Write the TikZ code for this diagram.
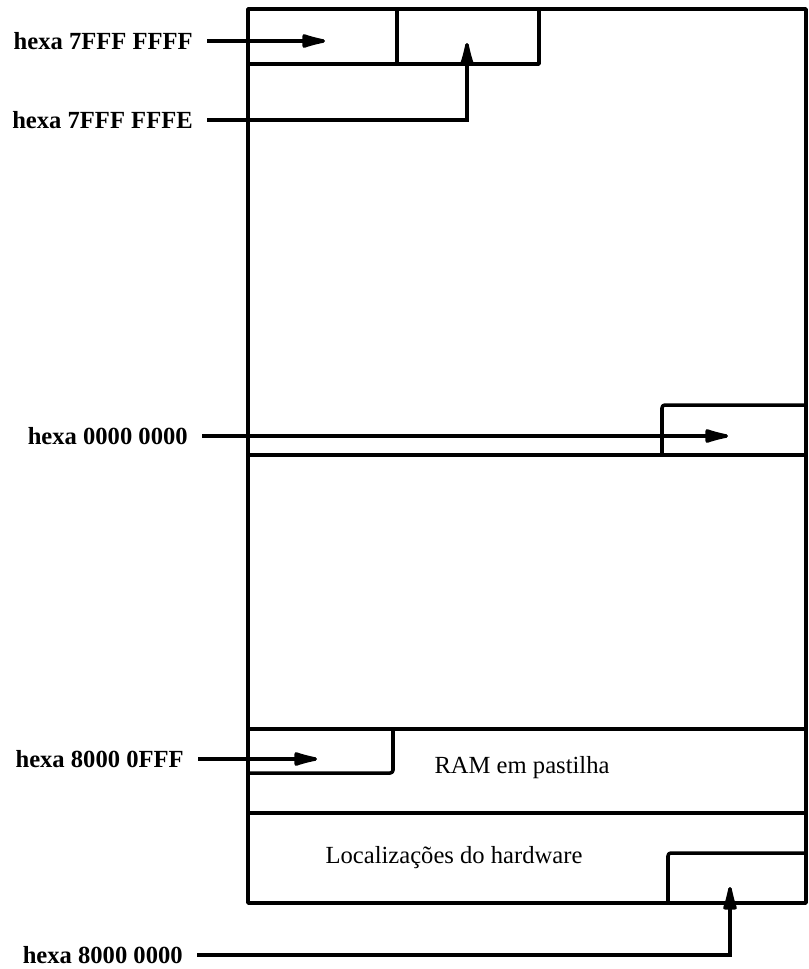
\documentclass[tikz,border=0pt]{standalone}
\usepackage{fontspec}
\setmainfont{Liberation Serif}
\usetikzlibrary{arrows.meta}

\begin{document}
\begin{tikzpicture}[
    x=0.025cm, y=-0.025cm,
    frame/.style={line width=2.5pt, line join=round},
    ptr/.style={line width=2.5pt, -{Latex[length=8mm, width=3.8mm, round]}},
    addr/.style={anchor=east, inner xsep=0.35cm, inner ysep=0pt, font=\bfseries\fontsize{17.5}{19}\selectfont},
    area/.style={font=\fontsize{17.5}{19}\selectfont}
]
\useasboundingbox (0,0) rectangle (809,969);

% Memory outline
\draw[frame] (248,9) rectangle (806,903);

% Top two words
\draw[frame] (248,64) -- (539,64) -- (539,9);
\draw[frame] (397,9) -- (397,64);

% Word at address zero
\draw[frame, rounded corners=2pt] (662,455) |- (806,405);
\draw[frame] (248,455) -- (806,455);

% RAM em pastilha
\draw[frame] (248,729) -- (806,729);
\draw[frame, rounded corners=2pt] (248,773) -| (393,729);
\draw[frame] (248,813) -- (806,813);
\node[area] (ram) at (522,768) {RAM em pastilha};

% Hardware area
\draw[frame, rounded corners=2pt] (668,903) |- (806,853);
\node[area] (hw) at (454,858) {Localizações do hardware};

% Address labels
\node[addr] (a7ffff) at (207,41) {hexa 7FFF FFFF};
\node[addr] (a7fffe) at (207,120) {hexa 7FFF FFFE};
\node[addr] (a0000) at (202,436) {hexa 0000 0000};
\node[addr] (a80fff) at (198,759) {hexa 8000 0FFF};
\node[addr] (a8000) at (197,955) {hexa 8000 0000};

% Arrow tips
\coordinate (t7ffff) at (325,41);
\coordinate (t7fffe) at (467,43);
\coordinate (t0000) at (728,436);
\coordinate (t80fff) at (317,759);
\coordinate (t8000) at (730,887);

% Pointers
\draw[ptr] (a7ffff.east) -- (t7ffff);
\draw[ptr] (a7fffe.east) -| (t7fffe);
\draw[ptr] (a0000.east) -- (t0000);
\draw[ptr] (a80fff.east) -- (t80fff);
\draw[ptr] (a8000.east) -| (t8000);

\end{tikzpicture}
\end{document}
